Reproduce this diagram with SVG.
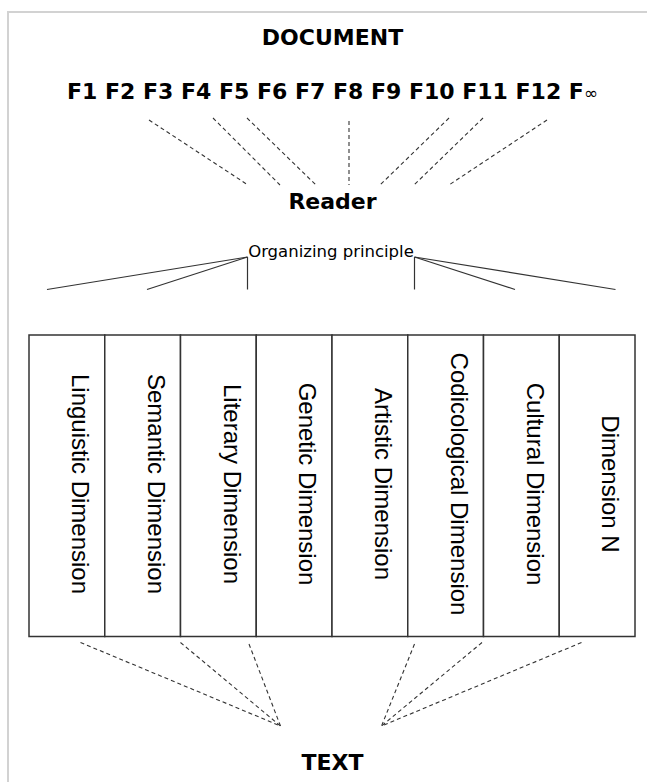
<svg xmlns="http://www.w3.org/2000/svg" width="647" height="782" viewBox="0 0 647 782">
<style>
.bold{font-family:"DejaVu Sans",Verdana,sans-serif;font-weight:bold;font-size:22px;fill:#000}
.org{font-family:"DejaVu Sans",Verdana,sans-serif;font-size:16.5px;fill:#000}
.dim{font-family:"Liberation Sans",Arial,sans-serif;font-size:24px;fill:#000}
.dash{stroke:#333;stroke-width:1.1;stroke-dasharray:4 3;fill:none}
.solid{stroke:#333;stroke-width:1.2;fill:none}
.cell{fill:#fff;stroke:#333;stroke-width:1.5}
</style>
<rect x="0" y="0" width="647" height="782" fill="#fff"/>
<rect x="8" y="12" width="700" height="800" fill="none" stroke="#d2d2d2" stroke-width="2"/>
<g id="document"><text class="bold" x="332.5" y="45" text-anchor="middle">DOCUMENT</text></g>
<g id="fragments"><text class="bold" x="67" y="99">F1 F2 F3 F4 F5 F6 F7 F8 F9 F10 F11 F12 F<tspan font-weight="normal" font-size="17">∞</tspan></text></g>
<g id="reader"><text class="bold" x="332.5" y="209" text-anchor="middle">Reader</text></g>
<g id="principle"><text class="org" x="331" y="257" text-anchor="middle">Organizing principle</text></g>
<g id="dimensions">
<rect class="cell" x="29" y="335" width="75.75" height="301.5"/>
<rect class="cell" x="104.75" y="335" width="75.75" height="301.5"/>
<rect class="cell" x="180.5" y="335" width="75.75" height="301.5"/>
<rect class="cell" x="256.25" y="335" width="75.75" height="301.5"/>
<rect class="cell" x="332" y="335" width="75.75" height="301.5"/>
<rect class="cell" x="407.75" y="335" width="75.75" height="301.5"/>
<rect class="cell" x="483.5" y="335" width="75.75" height="301.5"/>
<rect class="cell" x="559.25" y="335" width="75.75" height="301.5"/>
<text class="dim" text-anchor="middle" transform="translate(72,484) rotate(90)">Linguistic Dimension</text>
<text class="dim" text-anchor="middle" transform="translate(147.75,484) rotate(90)">Semantic Dimension</text>
<text class="dim" text-anchor="middle" transform="translate(223.5,484) rotate(90)">Literary Dimension</text>
<text class="dim" text-anchor="middle" transform="translate(299.25,484) rotate(90)">Genetic Dimension</text>
<text class="dim" text-anchor="middle" transform="translate(375,484) rotate(90)">Artistic Dimension</text>
<text class="dim" text-anchor="middle" transform="translate(450.75,484) rotate(90)">Codicological Dimension</text>
<text class="dim" text-anchor="middle" transform="translate(526.5,484) rotate(90)">Cultural Dimension</text>
<text class="dim" text-anchor="middle" transform="translate(602.25,484) rotate(90)">Dimension N</text>
</g>
<g id="text-node"><text class="bold" x="332.5" y="770" text-anchor="middle">TEXT</text></g>
<g id="connectors">
<line class="dash" x1="149" y1="120" x2="248" y2="185"/>
<line class="dash" x1="213" y1="118" x2="280" y2="185"/>
<line class="dash" x1="247" y1="118" x2="316" y2="185"/>
<line class="dash" x1="349" y1="121" x2="349" y2="185"/>
<line class="dash" x1="449" y1="118" x2="380" y2="185"/>
<line class="dash" x1="483" y1="118" x2="414" y2="185"/>
<line class="dash" x1="547" y1="120" x2="449" y2="185"/>
<line class="solid" x1="247.5" y1="257" x2="47" y2="289.5"/>
<line class="solid" x1="247.5" y1="257" x2="147" y2="289.5"/>
<line class="solid" x1="247.5" y1="257" x2="247.5" y2="289.5"/>
<line class="solid" x1="414.5" y1="257" x2="414.5" y2="289.5"/>
<line class="solid" x1="414.5" y1="257" x2="515" y2="289.5"/>
<line class="solid" x1="414.5" y1="257" x2="615.5" y2="289.5"/>
<line class="dash" x1="80.5" y1="642.5" x2="280.5" y2="726"/>
<line class="dash" x1="180.5" y1="642.5" x2="280.5" y2="726"/>
<line class="dash" x1="249" y1="644" x2="280.5" y2="726"/>
<line class="dash" x1="414.5" y1="644" x2="381.5" y2="726"/>
<line class="dash" x1="482" y1="642.5" x2="381.5" y2="726"/>
<line class="dash" x1="581.5" y1="642.5" x2="381.5" y2="726"/>
</g>
</svg>
